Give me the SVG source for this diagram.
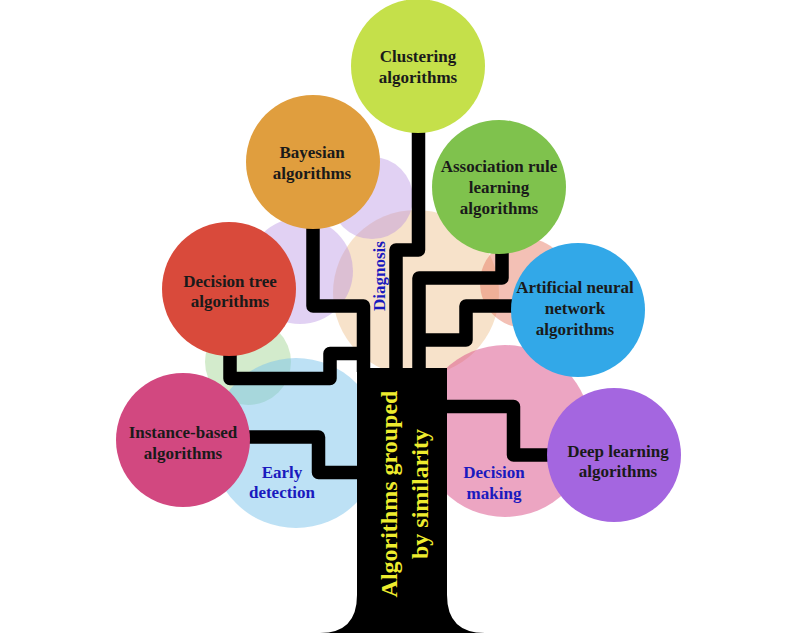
<svg xmlns="http://www.w3.org/2000/svg" width="800" height="633" viewBox="0 0 800 633">
<style>
.bg{stroke:none}
.node{stroke:none}
.lbl{font-family:"Liberation Serif","Times New Roman",serif;font-weight:bold;font-size:17px;fill:#1a1a1a;text-anchor:middle}
.area{font-family:"Liberation Serif","Times New Roman",serif;font-weight:bold;font-size:17px;fill:#1a1abe;text-anchor:middle}
.trunk{font-family:"Liberation Serif","Times New Roman",serif;font-weight:bold;font-size:24px;fill:#eeec2e;text-anchor:middle}
.br{fill:none;stroke:#000;stroke-width:13.5;stroke-linejoin:round;stroke-linecap:butt}
</style>
<rect width="800" height="633" fill="#fff"/>
<g id="background">
<circle class="bg" cx="416" cy="293" r="83" fill="#eebf8a" fill-opacity="0.45"/>
<circle class="bg" cx="300" cy="271" r="53" fill="#b58de0" fill-opacity="0.4"/>
<circle class="bg" cx="372" cy="198" r="41" fill="#b58de0" fill-opacity="0.4"/>
<circle class="bg" cx="525" cy="283" r="45" fill="#e4735c" fill-opacity="0.45"/>
<circle class="bg" cx="248" cy="362" r="43" fill="#a8d79a" fill-opacity="0.5"/>
<circle class="bg" cx="296" cy="443" r="85" fill="#7cc4ec" fill-opacity="0.5"/>
<circle class="bg" cx="505" cy="431" r="86" fill="#d94c85" fill-opacity="0.5"/>
</g>
<g id="connectors">
<path class="br" d="M418.5,120 V250 H396 V372"/>
<path class="br" d="M502,240 V278 H419 V372"/>
<path class="br" d="M520,306 H466 V340 H419"/>
<path class="br" d="M313,220 V306 H363.5 V372"/>
<path class="br" d="M230,345 V378.5 H330 V353.5 H363"/>
<path class="br" d="M240,437 H318.5 V472.5 H360"/>
<path class="br" d="M440,406.5 H513.5 V455 H555"/>
</g>
<g id="trunk">
<path d="M357,368 H447 V595 Q447,633 485,633 H320 Q357,633 357,595 Z" fill="#000"/>
<text class="trunk" transform="translate(397,494) rotate(-90)">Algorithms grouped</text>
<text class="trunk" transform="translate(428,494) rotate(-90)">by similarity</text>
</g>
<g id="clustering">
<circle class="node" cx="418" cy="66" r="67" fill="#c5e04a"/>
<text class="lbl" x="418" y="62">Clustering</text>
<text class="lbl" x="418" y="83">algorithms</text>
</g>
<g id="bayesian">
<circle class="node" cx="313" cy="162" r="67" fill="#e09e3e"/>
<text class="lbl" x="312" y="158">Bayesian</text>
<text class="lbl" x="312" y="179">algorithms</text>
</g>
<g id="association">
<circle class="node" cx="499" cy="187" r="67" fill="#7fc24d"/>
<text class="lbl" x="499" y="172">Association rule</text>
<text class="lbl" x="499" y="193">learning</text>
<text class="lbl" x="499" y="214">algorithms</text>
</g>
<g id="decision-tree">
<circle class="node" cx="229" cy="289" r="67" fill="#d94a3b"/>
<text class="lbl" x="230" y="287">Decision tree</text>
<text class="lbl" x="230" y="307">algorithms</text>
</g>
<g id="ann">
<circle class="node" cx="578" cy="310" r="67" fill="#32a8e8"/>
<text class="lbl" x="575" y="293">Artificial neural</text>
<text class="lbl" x="575" y="314">network</text>
<text class="lbl" x="575" y="335">algorithms</text>
</g>
<g id="instance-based">
<circle class="node" cx="183" cy="440" r="67" fill="#d24880"/>
<text class="lbl" x="183" y="438">Instance-based</text>
<text class="lbl" x="183" y="459">algorithms</text>
</g>
<g id="deep-learning">
<circle class="node" cx="614" cy="455" r="67" fill="#a466e0"/>
<text class="lbl" x="618" y="457">Deep learning</text>
<text class="lbl" x="618" y="477">algorithms</text>
</g>
<g id="areas">
<text class="area" transform="translate(385,276) rotate(-90)">Diagnosis</text>
<text class="area" x="282" y="478">Early</text>
<text class="area" x="282" y="498">detection</text>
<text class="area" x="494" y="478">Decision</text>
<text class="area" x="494" y="499">making</text>
</g>
</svg>
